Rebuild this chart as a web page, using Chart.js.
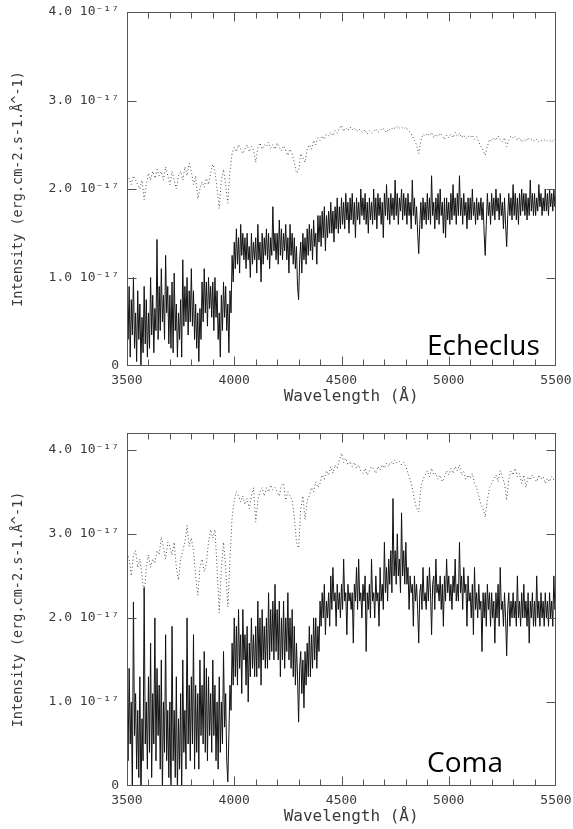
<!DOCTYPE html>
<html lang="en">
<head>
<meta charset="UTF-8">
<title>Echeclus and coma spectra</title>
<script src="https://cdn.jsdelivr.net/npm/chart.js"></script>
<style>
  html, body { margin: 0; padding: 0; background: #fff; }
  body { width: 573px; height: 829px; position: relative; overflow: hidden; }
  canvas { position: absolute; left: 0; }
  #topChart { top: 0; }
  #bottomChart { top: 414px; }
</style>
</head>
<body>
<canvas id="topChart" width="573" height="410"></canvas>
<canvas id="bottomChart" width="573" height="415"></canvas>
<script>
// observed spectra, sampled every 5 Angstrom
const fluxWavelength = [
  3500,3505,3510,3515,3520,3525,3530,3535,3540,3545,
  3550,3555,3560,3565,3570,3575,3580,3585,3590,3595,
  3600,3605,3610,3615,3620,3625,3630,3635,3640,3645,
  3650,3655,3660,3665,3670,3675,3680,3685,3690,3695,
  3700,3705,3710,3715,3720,3725,3730,3735,3740,3745,
  3750,3755,3760,3765,3770,3775,3780,3785,3790,3795,
  3800,3805,3810,3815,3820,3825,3830,3835,3840,3845,
  3850,3855,3860,3865,3870,3875,3880,3885,3890,3895,
  3900,3905,3910,3915,3920,3925,3930,3935,3940,3945,
  3950,3955,3960,3965,3970,3975,3980,3985,3990,3995,
  4000,4005,4010,4015,4020,4025,4030,4035,4040,4045,
  4050,4055,4060,4065,4070,4075,4080,4085,4090,4095,
  4100,4105,4110,4115,4120,4125,4130,4135,4140,4145,
  4150,4155,4160,4165,4170,4175,4180,4185,4190,4195,
  4200,4205,4210,4215,4220,4225,4230,4235,4240,4245,
  4250,4255,4260,4265,4270,4275,4280,4285,4290,4295,
  4300,4305,4310,4315,4320,4325,4330,4335,4340,4345,
  4350,4355,4360,4365,4370,4375,4380,4385,4390,4395,
  4400,4405,4410,4415,4420,4425,4430,4435,4440,4445,
  4450,4455,4460,4465,4470,4475,4480,4485,4490,4495,
  4500,4505,4510,4515,4520,4525,4530,4535,4540,4545,
  4550,4555,4560,4565,4570,4575,4580,4585,4590,4595,
  4600,4605,4610,4615,4620,4625,4630,4635,4640,4645,
  4650,4655,4660,4665,4670,4675,4680,4685,4690,4695,
  4700,4705,4710,4715,4720,4725,4730,4735,4740,4745,
  4750,4755,4760,4765,4770,4775,4780,4785,4790,4795,
  4800,4805,4810,4815,4820,4825,4830,4835,4840,4845,
  4850,4855,4860,4865,4870,4875,4880,4885,4890,4895,
  4900,4905,4910,4915,4920,4925,4930,4935,4940,4945,
  4950,4955,4960,4965,4970,4975,4980,4985,4990,4995,
  5000,5005,5010,5015,5020,5025,5030,5035,5040,5045,
  5050,5055,5060,5065,5070,5075,5080,5085,5090,5095,
  5100,5105,5110,5115,5120,5125,5130,5135,5140,5145,
  5150,5155,5160,5165,5170,5175,5180,5185,5190,5195,
  5200,5205,5210,5215,5220,5225,5230,5235,5240,5245,
  5250,5255,5260,5265,5270,5275,5280,5285,5290,5295,
  5300,5305,5310,5315,5320,5325,5330,5335,5340,5345,
  5350,5355,5360,5365,5370,5375,5380,5385,5390,5395,
  5400,5405,5410,5415,5420,5425,5430,5435,5440,5445,
  5450,5455,5460,5465,5470,5475,5480,5485,5490,5495,
  5500
];

// intensities in units of 1e-17 erg/cm2/s/A
const echeclusFlux = [
  1.15,0.3,0.9,0.1,0.75,0.35,1.0,0.2,0.6,0.05,
  0.85,0.3,0.7,0.0,0.55,0.15,0.9,0.25,0.75,0.1,
  0.6,0.2,1.0,0.35,0.8,0.15,0.65,0.4,1.43,0.3,
  0.9,0.4,1.1,0.5,0.8,0.3,1.25,0.6,0.9,0.25,
  0.8,0.2,0.95,0.15,1.05,0.4,0.7,0.1,0.6,0.3,
  0.75,0.1,1.2,0.45,0.9,0.5,1.0,0.35,0.85,0.5,
  1.1,0.45,0.85,0.3,0.7,0.2,0.6,0.05,0.65,0.3,
  0.95,0.5,1.1,0.6,0.95,0.45,1.0,0.65,0.9,0.55,
  0.95,0.4,1.0,0.55,0.85,0.3,0.6,0.1,0.8,0.4,
  0.95,0.55,0.9,0.4,0.7,0.15,0.85,0.6,1.25,0.95,
  1.4,1.1,1.55,1.15,1.45,1.05,1.6,1.25,1.5,1.2,
  1.45,1.1,1.5,1.2,1.35,1.0,1.5,1.15,1.4,1.2,
  1.45,1.05,1.6,1.2,1.4,0.95,1.5,1.15,1.45,1.25,
  1.55,1.2,1.5,1.1,1.45,1.25,1.8,1.3,1.5,1.2,
  1.5,1.15,1.65,1.25,1.55,1.2,1.5,1.3,1.6,1.2,
  1.45,1.05,1.6,1.25,1.5,1.15,1.45,1.1,1.35,0.9,
  0.75,1.2,1.4,1.05,1.5,1.2,1.45,1.15,1.55,1.25,
  1.6,1.3,1.55,1.2,1.65,1.35,1.5,1.15,1.7,1.4,
  1.7,1.35,1.75,1.45,1.8,1.3,1.7,1.45,1.75,1.5,
  1.85,1.5,1.75,1.4,1.8,1.55,1.9,1.5,1.8,1.55,
  1.9,1.6,1.85,1.55,1.95,1.65,1.85,1.5,1.9,1.65,
  1.95,1.6,1.85,1.45,1.9,1.65,1.85,1.6,2.0,1.7,
  1.9,1.65,1.95,1.6,1.85,1.5,1.9,1.65,1.85,1.6,
  2.0,1.65,1.9,1.55,1.95,1.7,1.9,1.6,1.85,1.45,
  1.95,1.7,2.05,1.65,1.9,1.6,1.95,1.7,1.9,1.65,
  2.1,1.7,1.95,1.6,1.9,1.75,2.0,1.65,1.95,1.7,
  1.9,1.6,1.95,1.7,1.85,1.55,2.1,1.7,1.9,1.6,
  1.8,1.5,1.27,1.6,1.85,1.55,1.9,1.65,1.85,1.6,
  1.95,1.65,1.9,1.6,2.15,1.7,1.85,1.55,1.9,1.65,
  1.95,1.6,2.0,1.7,1.85,1.5,1.9,1.45,1.9,1.65,
  1.85,1.6,1.95,1.65,2.05,1.7,1.9,1.6,1.95,1.7,
  2.15,1.7,1.9,1.6,1.95,1.7,1.85,1.55,1.9,1.65,
  1.9,1.65,2.0,1.7,1.85,1.6,1.9,1.65,1.85,1.7,
  1.9,1.65,1.85,1.5,1.25,1.6,1.95,1.7,1.85,1.6,
  1.95,1.7,1.9,1.65,2.0,1.75,1.9,1.65,1.95,1.7,
  1.85,1.55,1.9,1.6,1.35,1.7,1.95,1.7,1.9,1.65,
  2.05,1.7,1.95,1.65,1.9,1.6,1.95,1.7,2.0,1.75,
  1.95,1.7,1.95,1.65,1.9,1.7,2.1,1.75,1.95,1.7,
  1.95,1.7,1.9,1.75,2.05,1.8,1.95,1.7,1.9,1.75,
  2.0,1.75,1.95,1.7,2.0,1.8,1.95,1.75,2.0,1.8,
  1.95
];

const comaFlux = [
  1.2,0.3,1.4,0.5,1.0,-0.1,2.19,0.6,1.1,0.2,
  0.9,0.1,1.3,-0.2,0.8,0.3,2.36,0.5,1.0,0.2,
  1.3,0.4,1.7,0.1,1.1,0.5,2.0,0.3,1.4,0.6,
  1.2,0.2,1.5,-0.1,1.0,0.4,1.8,0.3,0.9,0.1,
  1.0,-0.2,1.9,0.3,0.9,0.1,1.3,-0.1,0.8,0.2,
  1.1,-0.1,1.5,0.4,0.9,0.2,2.0,0.5,1.2,0.3,
  1.3,0.5,1.8,0.2,1.2,0.4,1.1,0.2,1.5,0.6,
  1.2,0.5,1.6,0.4,1.4,0.3,1.3,0.6,1.1,0.4,
  1.5,0.6,1.2,0.3,1.0,0.2,1.3,0.4,1.0,0.5,
  1.6,0.7,1.1,0.3,0.05,0.6,1.2,0.9,1.7,1.2,
  2.0,1.3,1.9,1.2,2.1,1.4,1.8,1.1,2.1,1.5,
  1.8,1.2,1.9,1.0,1.7,1.3,2.0,1.4,1.8,1.3,
  1.9,1.3,2.2,1.4,2.0,1.2,2.1,1.5,1.9,1.4,
  2.0,1.4,2.3,1.5,2.1,1.6,2.2,1.5,2.4,1.6,
  2.1,1.5,2.2,1.3,2.0,1.5,2.2,1.4,2.0,1.6,
  2.3,1.5,2.0,1.4,2.1,1.3,1.9,1.2,1.7,1.3,
  0.76,1.4,1.6,1.1,1.5,0.93,1.6,1.2,1.7,1.3,
  1.9,1.3,1.8,1.4,2.0,1.5,2.0,1.4,1.9,1.6,
  2.2,1.9,2.3,2.0,2.4,1.8,2.2,2.0,2.3,1.9,
  2.5,2.1,2.6,2.2,2.3,1.9,2.4,2.1,2.3,2.0,
  2.4,2.1,2.7,2.2,2.3,1.8,2.4,2.2,2.3,2.1,
  2.3,1.7,2.4,2.2,2.6,2.1,2.7,2.2,2.3,2.0,
  2.4,2.2,2.5,1.6,2.3,2.1,2.4,2.0,2.7,2.2,
  2.3,2.0,2.5,2.2,2.3,1.9,2.6,2.2,2.4,2.1,
  2.9,2.3,2.6,2.2,2.7,2.4,2.8,2.3,3.42,2.5,
  2.8,2.4,3.0,2.5,2.7,2.3,3.25,2.5,2.8,2.4,
  2.9,2.4,2.6,2.1,2.5,2.3,2.4,1.9,2.5,2.2,
  2.4,2.1,1.7,2.3,2.4,2.1,2.6,2.2,2.3,2.1,
  2.5,2.2,2.6,2.3,1.8,2.4,2.5,2.1,2.7,2.3,
  2.4,2.2,2.5,2.1,2.4,1.9,2.5,2.2,2.7,2.3,
  2.5,2.2,2.4,2.1,2.5,2.3,2.7,2.2,2.4,2.2,
  2.9,2.3,2.5,2.1,2.6,2.3,2.4,1.9,2.5,2.2,
  2.3,2.0,2.4,1.8,2.6,2.1,2.3,2.0,2.4,2.1,
  2.2,1.6,2.3,2.0,2.3,1.9,2.4,2.1,2.3,1.9,
  2.3,2.0,2.2,1.7,2.3,2.0,2.4,1.9,2.6,2.1,
  2.2,1.9,2.3,2.0,1.55,2.1,2.3,1.9,2.2,2.0,
  2.3,2.0,2.2,1.9,2.5,2.0,2.2,1.9,2.3,2.0,
  2.4,2.0,2.2,1.9,2.3,1.7,2.2,2.0,2.3,1.9,
  2.2,1.9,2.5,2.0,2.2,1.9,2.3,2.0,2.2,1.9,
  2.3,2.0,2.2,1.9,2.3,2.0,2.2,1.9,2.5,2.1,
  2.2
];

// scaled solar (comparison) spectra, sampled every 10 Angstrom
const solarWavelength = [
  3500,3510,3520,3530,3540,3550,3560,3570,3580,3590,
  3600,3610,3620,3630,3640,3650,3660,3670,3680,3690,
  3700,3710,3720,3730,3740,3750,3760,3770,3780,3790,
  3800,3810,3820,3830,3840,3850,3860,3870,3880,3890,
  3900,3910,3920,3930,3940,3950,3960,3970,3980,3990,
  4000,4010,4020,4030,4040,4050,4060,4070,4080,4090,
  4100,4110,4120,4130,4140,4150,4160,4170,4180,4190,
  4200,4210,4220,4230,4240,4250,4260,4270,4280,4290,
  4300,4310,4320,4330,4340,4350,4360,4370,4380,4390,
  4400,4410,4420,4430,4440,4450,4460,4470,4480,4490,
  4500,4510,4520,4530,4540,4550,4560,4570,4580,4590,
  4600,4610,4620,4630,4640,4650,4660,4670,4680,4690,
  4700,4710,4720,4730,4740,4750,4760,4770,4780,4790,
  4800,4810,4820,4830,4840,4850,4860,4870,4880,4890,
  4900,4910,4920,4930,4940,4950,4960,4970,4980,4990,
  5000,5010,5020,5030,5040,5050,5060,5070,5080,5090,
  5100,5110,5120,5130,5140,5150,5160,5170,5180,5190,
  5200,5210,5220,5230,5240,5250,5260,5270,5280,5290,
  5300,5310,5320,5330,5340,5350,5360,5370,5380,5390,
  5400,5410,5420,5430,5440,5450,5460,5470,5480,5490,
  5500
];

const echeclusSolar = [
  2.08,2.12,2.05,2.15,2.1,2.05,2.0,2.1,1.88,2.05,
  2.18,2.1,2.2,2.12,2.22,2.15,2.2,2.1,2.25,2.15,
  2.05,2.2,2.1,2.0,2.15,2.2,2.1,2.25,2.15,2.29,
  2.2,2.05,2.15,1.89,2.0,2.08,2.02,2.12,2.05,2.18,
  2.28,2.2,2.0,1.78,2.1,2.22,2.05,1.84,2.2,2.4,
  2.47,2.42,2.5,2.45,2.4,2.45,2.5,2.42,2.48,2.44,
  2.3,2.47,2.52,2.45,2.5,2.48,2.53,2.46,2.5,2.45,
  2.52,2.47,2.43,2.49,2.44,2.38,2.45,2.4,2.3,2.18,
  2.2,2.4,2.35,2.3,2.45,2.5,2.45,2.55,2.5,2.58,
  2.55,2.6,2.56,2.62,2.6,2.64,2.6,2.66,2.63,2.68,
  2.72,2.65,2.69,2.66,2.7,2.67,2.69,2.65,2.68,2.66,
  2.64,2.67,2.62,2.66,2.63,2.65,2.68,2.64,2.66,2.69,
  2.67,2.64,2.68,2.66,2.7,2.68,2.71,2.69,2.7,2.68,
  2.7,2.66,2.64,2.6,2.55,2.5,2.4,2.55,2.62,2.6,
  2.63,2.6,2.64,2.58,2.62,2.59,2.63,2.6,2.56,2.61,
  2.58,2.62,2.58,2.64,2.6,2.63,2.58,2.61,2.57,2.6,
  2.58,2.61,2.56,2.59,2.53,2.48,2.44,2.38,2.48,2.56,
  2.54,2.58,2.55,2.6,2.56,2.53,2.58,2.48,2.55,2.6,
  2.57,2.59,2.55,2.58,2.53,2.56,2.54,2.58,2.55,2.57,
  2.54,2.56,2.53,2.55,2.54,2.56,2.54,2.55,2.53,2.56,
  2.55
];

const comaSolar = [
  2.77,2.7,2.5,2.75,2.8,2.6,2.7,2.5,2.27,2.6,
  2.75,2.6,2.7,2.65,2.8,2.75,2.96,2.85,2.7,2.9,
  2.85,2.75,2.9,2.6,2.45,2.7,2.8,2.9,3.1,2.85,
  2.95,2.8,2.5,2.27,2.6,2.7,2.55,2.65,2.9,3.05,
  2.95,3.05,2.6,2.06,2.6,2.9,2.6,2.13,2.7,3.2,
  3.4,3.5,3.45,3.38,3.45,3.35,3.42,3.3,3.45,3.55,
  3.14,3.4,3.5,3.55,3.45,3.55,3.5,3.58,3.52,3.55,
  3.5,3.45,3.58,3.6,3.4,3.5,3.45,3.4,3.2,2.9,
  2.83,3.3,3.45,3.17,3.4,3.45,3.55,3.5,3.62,3.55,
  3.6,3.7,3.65,3.75,3.7,3.8,3.72,3.82,3.78,3.88,
  3.96,3.85,3.9,3.82,3.86,3.8,3.85,3.78,3.82,3.75,
  3.72,3.78,3.7,3.75,3.8,3.77,3.72,3.8,3.76,3.82,
  3.78,3.84,3.8,3.86,3.83,3.88,3.84,3.86,3.82,3.85,
  3.8,3.72,3.65,3.55,3.4,3.3,3.26,3.55,3.65,3.7,
  3.75,3.68,3.78,3.7,3.72,3.65,3.7,3.62,3.68,3.75,
  3.7,3.78,3.72,3.8,3.75,3.82,3.7,3.74,3.65,3.7,
  3.66,3.72,3.6,3.55,3.45,3.35,3.3,3.2,3.4,3.55,
  3.6,3.65,3.7,3.62,3.75,3.68,3.6,3.4,3.65,3.75,
  3.7,3.78,3.68,3.72,3.6,3.7,3.55,3.68,3.64,3.7,
  3.66,3.62,3.7,3.65,3.68,3.6,3.66,3.62,3.68,3.64,
  3.65
];

const xTicks = [3500, 4000, 4500, 5000, 5500];
const yTicks = [0, 1, 2, 3, 4];

Chart.defaults.font.family = '"DejaVu Sans Mono", monospace';
Chart.defaults.color = '#3a3a3a';

function yLabel(v) {
  return v === 0 ? '0' : v.toFixed(1) + ' 10⁻¹⁷';
}

// frame with inward ticks on all four sides, plus the object name
const frameTicks = {
  id: 'frameTicks',
  afterDatasetsDraw(chart, args, opts) {
    const { ctx, chartArea: a, scales: { x, y } } = chart;
    const L = Math.round(a.left) + 0.5, R = Math.round(a.right) - 0.5;
    const T = Math.round(a.top) + 0.5, B = Math.round(a.bottom) - 0.5;
    ctx.save();
    ctx.strokeStyle = '#555';
    ctx.lineWidth = 1;
    ctx.strokeRect(L, T, R - L, B - T);
    ctx.beginPath();
    for (let w = x.min + 100; w < x.max; w += 100) {
      const px = Math.round(x.getPixelForValue(w)) + 0.5;
      const len = xTicks.includes(w) ? 9 : 6;
      ctx.moveTo(px, B); ctx.lineTo(px, B - len);
      ctx.moveTo(px, T); ctx.lineTo(px, T + len);
    }
    yTicks.forEach(v => {
      if (v <= y.min || v >= y.max) return;
      const py = Math.round(y.getPixelForValue(v)) + 0.5;
      ctx.moveTo(L, py); ctx.lineTo(L + 9, py);
      ctx.moveTo(R, py); ctx.lineTo(R - 9, py);
    });
    ctx.stroke();
    ctx.font = '28px "Open Sans", sans-serif';
    ctx.fillStyle = '#000';
    ctx.textBaseline = 'alphabetic';
    ctx.fillText(opts.name, a.left + 300, a.bottom - opts.nameLift);
    ctx.restore();
  }
};

function makeChart(id, name, flux, solar, yMax, padTop, xAxisHeight, nameLift, titlePad) {
  return new Chart(document.getElementById(id), {
    type: 'line',
    data: {
      datasets: [
        {
          data: solarWavelength.map((w, i) => ({ x: w, y: solar[i] })),
          borderColor: '#4a4a4a',
          borderWidth: 1,
          borderDash: [1, 2.5],
          pointRadius: 0,
          tension: 0
        },
        {
          data: fluxWavelength.map((w, i) => ({ x: w, y: flux[i] })),
          borderColor: '#111',
          borderWidth: 1,
          pointRadius: 0,
          tension: 0
        }
      ]
    },
    options: {
      responsive: false,
      animation: false,
      layout: { padding: { top: padTop, right: 17, left: 0, bottom: 0 } },
      plugins: {
        legend: { display: false },
        tooltip: { enabled: false },
        frameTicks: { name: name, nameLift: nameLift }
      },
      scales: {
        x: {
          type: 'linear',
          min: 3500,
          max: 5500,
          afterBuildTicks: s => { s.ticks = xTicks.map(v => ({ value: v })); },
          afterFit: s => { s.height = xAxisHeight; s.paddingLeft = 0; s.paddingRight = 0; },
          grid: { display: false, drawTicks: false },
          border: { display: false },
          ticks: {
            callback: v => String(v),
            padding: 7,
            maxRotation: 0,
            autoSkip: false,
            font: { size: 13 }
          },
          title: {
            display: true,
            text: '  Wavelength (Å)',
            font: { size: 16 },
            padding: { top: 0, bottom: titlePad }
          }
        },
        y: {
          type: 'linear',
          min: 0,
          max: yMax,
          afterBuildTicks: s => { s.ticks = yTicks.filter(v => v <= yMax).map(v => ({ value: v })); },
          afterFit: s => { s.width = 127; s.paddingTop = 0; s.paddingBottom = 0; },
          grid: { display: false, drawTicks: false },
          border: { display: false },
          ticks: {
            callback: v => yLabel(v),
            padding: 8,
            font: { size: 13 }
          },
          title: {
            display: true,
            text: 'Intensity (erg.cm-2.s-1.Å^-1)',
            font: { size: 13.5 },
            padding: { top: 10, bottom: 0 }
          }
        }
      }
    },
    plugins: [frameTicks]
  });
}

makeChart('topChart', 'Echeclus', echeclusFlux, echeclusSolar, 4.0, 12, 44, 11, 4);
makeChart('bottomChart', 'Coma', comaFlux, comaSolar, 4.2, 19, 43, 14, 3);
</script>
</body>
</html>
